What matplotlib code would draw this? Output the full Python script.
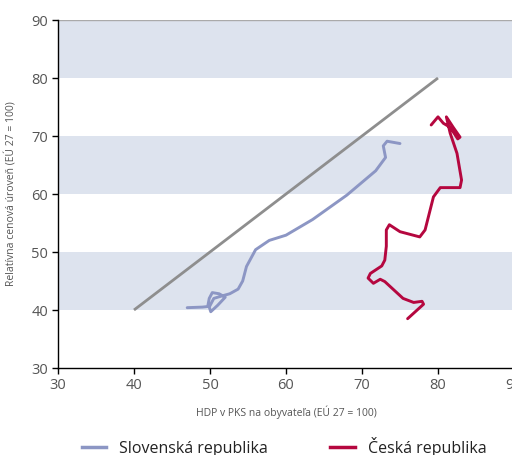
import matplotlib
matplotlib.use("Agg")
import matplotlib.pyplot as plt
from matplotlib.lines import Line2D

# Data
sk_x = [47.0, 49.0, 49.7, 49.9, 50.3, 51.2, 52.0, 51.0, 50.1, 49.9, 50.5, 51.5, 52.6, 53.7,
        54.3, 54.8, 56.0, 57.8, 60.0, 63.5, 68.0, 71.8, 73.1, 72.8, 73.3, 75.0]
sk_y = [40.4, 40.5, 40.6, 42.0, 43.0, 42.8, 42.2, 40.8, 39.7, 40.5, 42.0, 42.4, 42.8, 43.6,
        45.0, 47.5, 50.4, 52.0, 52.9, 55.6, 59.8, 64.0, 66.3, 68.3, 69.1, 68.7]

cz_x = [76.0, 78.1, 77.9, 76.8, 75.4, 73.0, 72.4, 71.5, 70.8, 71.1, 72.6, 73.0, 73.2, 73.2,
        73.6, 75.0, 77.6, 78.3, 79.4, 80.3, 82.9, 83.1, 82.5, 81.6, 81.1, 82.0, 82.9, 82.6,
        81.6, 80.7, 80.0, 79.1]
cz_y = [38.5, 41.0, 41.5, 41.3, 42.0, 44.9, 45.3, 44.6, 45.5, 46.3, 47.6, 48.6, 51.0, 53.8,
        54.7, 53.5, 52.6, 53.8, 59.5, 61.1, 61.1, 62.4, 67.0, 70.5, 73.3, 71.5, 69.8, 69.5,
        71.5, 72.2, 73.3, 71.9]

diag_x = [40, 80]
diag_y = [40, 80]

bands = [(40, 50), (60, 70), (80, 90)]
ticks = [30, 40, 50, 60, 70, 80, 90]

sk_label = "Slovenská republika"
cz_label = "Česká republika"
xlabel = "HDP v PKS na obyvateľa (EÚ 27 = 100)"
ylabel = "Relatívna cenová úroveň (EÚ 27 = 100)"

plt.rcParams['font.family'] = ['Open Sans', 'DejaVu Sans']

fig = plt.figure(figsize=(5.12, 4.55), dpi=100)
ax = fig.add_axes([58/512, (455-368)/455, (514-58)/512, (368-20)/455])
ax.set_xlim(30, 90)
ax.set_ylim(30, 90)

for lo, hi in bands:
    ax.axhspan(lo, hi, color='#dde3ee', lw=0, zorder=0)
ax.axhline(90, color='#aaaaaa', lw=1.0, zorder=1)

ax.plot(diag_x, diag_y, color='#8e8e8e', lw=2.0, solid_capstyle='butt', zorder=2)
ax.plot(sk_x, sk_y, color='#8c96c4', lw=2.1, solid_joinstyle='round', solid_capstyle='round', zorder=3)
ax.plot(cz_x, cz_y, color='#b5073f', lw=2.1, solid_joinstyle='round', solid_capstyle='round', zorder=3)

for s in ['top', 'right']:
    ax.spines[s].set_visible(False)
for s in ['left', 'bottom']:
    ax.spines[s].set_color('black')
    ax.spines[s].set_linewidth(1.0)

ax.set_xticks(ticks)
ax.set_yticks(ticks)
ax.tick_params(direction='out', length=4, width=1, colors='black', labelcolor='#555555',
               labelsize=10.5, pad=3)
ax.set_xlabel(xlabel, fontsize=7.5, color='#555555', labelpad=9)
ax.set_ylabel(ylabel, fontsize=7.5, color='#555555', labelpad=10)

handles = [Line2D([0], [0], color='#8c96c4', lw=2.5), Line2D([0], [0], color='#b5073f', lw=2.5)]
fig.legend(handles, [sk_label, cz_label], loc='center',
           bbox_to_anchor=(0.5 + 28/512, 1 - 447/455), bbox_transform=fig.transFigure,
           ncol=2, frameon=False, fontsize=11.5, handlelength=1.55, columnspacing=3.9,
           handletextpad=0.8, labelcolor='#222222', borderpad=0)

fig.savefig("out.png", dpi=100)
